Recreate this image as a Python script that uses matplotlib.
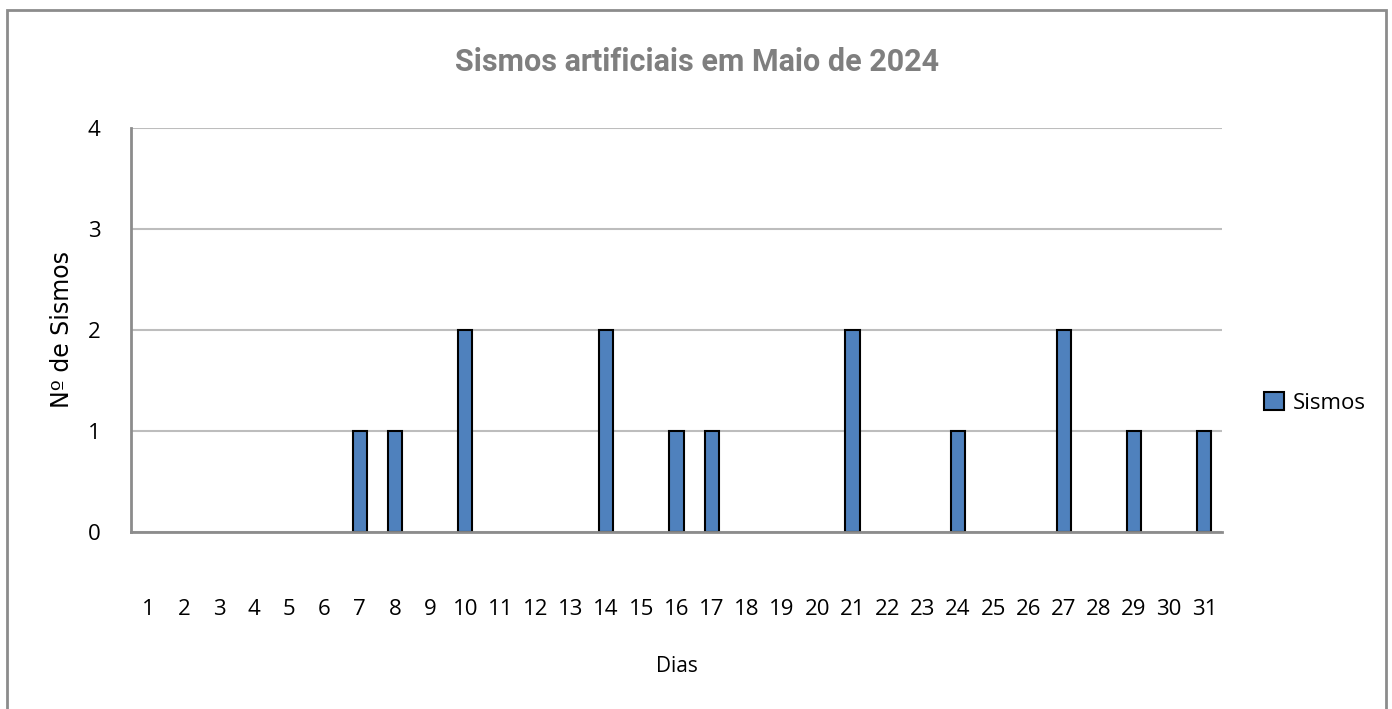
import matplotlib.pyplot as plt
from matplotlib.patches import Rectangle, Patch

# daily counts of artificial earthquakes, May 2024
dias = list(range(1, 32))
sismos_dia = {7: 1, 8: 1, 10: 2, 14: 2, 16: 1, 17: 1, 21: 2, 24: 1, 27: 2, 29: 1, 31: 1}
sismos = [sismos_dia.get(d, 0) for d in dias]

plt.rcParams['font.family'] = ['Open Sans', 'DejaVu Sans']

fig = plt.figure(figsize=(13.92, 7.09), dpi=100)
fig.patch.set_facecolor('white')
# outer chart frame
fig.patches.append(Rectangle((7 / 1392, -0.01), 1379 / 1392, 1 - 10 / 709 + 0.01,
                             transform=fig.transFigure, fill=False,
                             edgecolor='#8c8c8c', linewidth=2))

ax = fig.add_axes([131 / 1392, 1 - 532 / 709, 1091 / 1392, 404 / 709])
x = list(range(len(dias)))
edges = ['black' if v > 0 else 'none' for v in sismos]
ax.bar(x, sismos, width=0.4, color='#4f81bd', edgecolor=edges, linewidth=1.5, zorder=3)

ax.set_xlim(-0.5, len(dias) - 0.5)
ax.set_ylim(0, 4)
ax.set_yticks([0, 1, 2, 3, 4])
ax.set_xticks(x)
ax.set_xticklabels([str(d) for d in dias])
ax.tick_params(axis='x', length=0, pad=48, labelsize=16)
ax.tick_params(axis='y', length=0, pad=22, labelsize=16)
ax.grid(axis='y', color='#bdbdbd', linewidth=1.5, zorder=0)
for s in ['top', 'right']:
    ax.spines[s].set_visible(False)
for s in ['left', 'bottom']:
    ax.spines[s].set_color('#8c8c8c')
    ax.spines[s].set_linewidth(2)
ax.spines['bottom'].set_zorder(4)

ax.set_xlabel('Dias', fontsize=15, labelpad=26)
ax.set_ylabel('Nº de Sismos', fontsize=17, labelpad=10, family='DejaVu Sans')

fig.text(697 / 1392, 1 - 62 / 709, 'Sismos artificiais em Maio de 2024',
         ha='center', va='center', fontsize=22, fontweight='bold', color='#7f7f7f',
         family=['Roboto', 'DejaVu Sans'])

handle = Patch(facecolor='#4f81bd', edgecolor='black', linewidth=1.5, label='Sismos')
leg = fig.legend(handles=[handle], loc='center left',
                 bbox_to_anchor=(1244 / 1392, 1 - 403 / 709),
                 frameon=False, fontsize=16, handlelength=0.9, handleheight=0.9,
                 handletextpad=0.4)

fig.savefig('out.png', dpi=100)
